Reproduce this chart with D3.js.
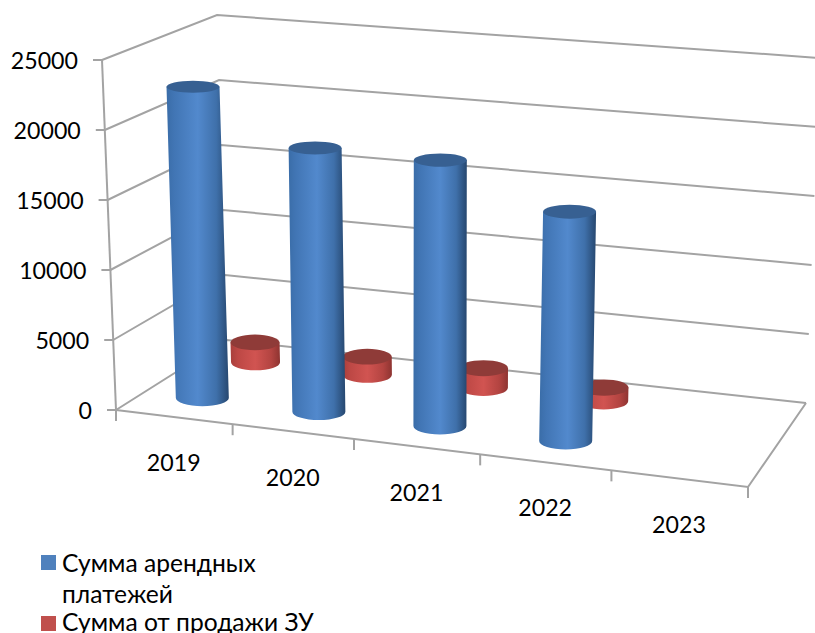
<!DOCTYPE html>
<html>
<head>
<meta charset="utf-8">
<style>
html,body{margin:0;padding:0;background:#fff}
svg{display:block}
text{font-family:Lato,"Noto Sans",sans-serif;font-size:23.2px;fill:#000}
text.legend{font-size:24.6px}
</style>
<script src="https://cdn.jsdelivr.net/npm/d3@7/dist/d3.min.js"></script>
</head>
<body>
<svg id="chart" width="815" height="633"></svg>
<script>
// Chart data
const years = ["2019", "2020", "2021", "2022", "2023"];
const seriesNames = ["Сумма арендных платежей", "Сумма от продажи ЗУ"];
const rentPayments = [22600, 19100, 19200, 16500, null];
const landSales = [1500, 1350, 1450, 1000, null];
const valueTicks = [0, 5000, 10000, 15000, 20000, 25000];

const svg = d3.select("#chart");

// Floor corners and the upward vector of the full value range at each corner
const floor = { fl: [116, 410], fr: [748, 487], bl: [227, 340], br: [806, 403] };
const rise = { fl: [-14, -350], fr: [14, -350], bl: [-10, -325], br: [14, -345] };

// Perspective map from the unit square onto the floor quadrilateral
function floorMap(q) {
  const [x0, y0] = q.fl, [x1, y1] = q.fr, [x2, y2] = q.br, [x3, y3] = q.bl;
  const dx1 = x1 - x2, dx2 = x3 - x2, dx3 = x0 - x1 + x2 - x3;
  const dy1 = y1 - y2, dy2 = y3 - y2, dy3 = y0 - y1 + y2 - y3;
  const det = dx1 * dy2 - dx2 * dy1;
  const g = (dx3 * dy2 - dx2 * dy3) / det;
  const h = (dx1 * dy3 - dx3 * dy1) / det;
  const a = x1 - x0 + g * x1, b = x3 - x0 + h * x3;
  const d = y1 - y0 + g * y1, e = y3 - y0 + h * y3;
  return (u, v) => {
    const w = g * u + h * v + 1;
    return [(a * u + b * v + x0) / w, (d * u + e * v + y0) / w];
  };
}
const onFloor = floorMap(floor);

const catScale = d3.scaleBand().domain(years).range([0, 1]);
const depthScale = d3.scalePoint().domain(seriesNames).range([0, 1]).padding(0.5);
const valueScale = d3.scaleLinear().domain([0, 25000]).range([0, 1]);
// Slight foreshortening along the category axis
const alongScale = d3.scalePow().exponent(1.002).domain([0, 1]).range([0, 1]);
// Ellipses flatten toward the top of the picture
const flatScale = d3.scaleLinear().domain([80, 400]).range([0.72, 1]);

// Screen position of (along, depth, value)
function project(t, v, value) {
  const u = alongScale(t);
  const [px, py] = onFloor(u, v);
  const k = valueScale(value);
  const mix = i =>
    (1 - u) * (1 - v) * rise.fl[i] + u * (1 - v) * rise.fr[i] +
    (1 - u) * v * rise.bl[i] + u * v * rise.br[i];
  return [px + k * mix(0), py + k * mix(1)];
}

const line = d3.line();
const frame = svg.append("g").attr("fill", "none").attr("stroke", "#a3a3a3").attr("stroke-width", 2);

// Gridlines on the side wall and the back wall
valueTicks.forEach(t => {
  frame.append("path").attr("d", line([project(0, 0, t), project(0, 1, t), project(1, 1, t)]));
});
// Floor outline and value axis
frame.append("path").attr("d", line([project(0, 0, 0), project(1, 0, 0), project(1, 1, 0)]));
frame.append("path").attr("d", line([project(0, 0, 0), project(0, 0, 25000)]));

// Value ticks and labels
valueTicks.forEach(t => {
  const [x, y] = project(0, 0, t);
  frame.append("path").attr("d", line([[x - 9, y], [x, y]]));
  svg.append("text").attr("x", x - 24).attr("y", y + 1).attr("dy", "0.35em")
    .attr("text-anchor", "end").text(t);
});

// Category ticks and labels along the front edge
const step = catScale.bandwidth();
d3.range(years.length + 1).forEach(i => {
  const [x, y] = project(i * step, 0, 0);
  frame.append("path").attr("d", line([[x, y], [x, y + 11]]));
});
years.forEach(c => {
  const [x, y] = project(catScale(c) + step / 2, 0, 0);
  svg.append("text").attr("x", x).attr("y", y + 46).attr("dy", "0.35em")
    .attr("text-anchor", "middle").text(c);
});

// Horizontal shading of the cylinders
const defs = svg.append("defs");
function shade(id, stops) {
  const g = defs.append("linearGradient").attr("id", id);
  stops.forEach(([o, c]) => g.append("stop").attr("offset", o).attr("stop-color", c));
}
shade("blueBody", [[0, "#3a6da8"], [0.12, "#4175b4"], [0.5, "#5289cd"], [0.8, "#3f70aa"], [1, "#26476f"]]);
shade("redBody", [[0, "#a83f3c"], [0.15, "#bd4845"], [0.5, "#d15451"], [0.82, "#b34441"], [1, "#8e3431"]]);

// One cylinder from its base centre to its top centre
function cylinder(u, v, value, rx, ry, fill, cap) {
  const [bx, by] = project(u, v, 0);
  const [tx, ty] = project(u, v, value);
  const rb = ry * flatScale(by), rt = ry * flatScale(ty);
  const g = svg.append("g");
  g.append("path")
    .attr("d", `M${tx - rx},${ty} L${bx - rx},${by} A${rx},${rb} 0 0 0 ${bx + rx},${by} L${tx + rx},${ty} Z`)
    .attr("fill", `url(#${fill})`);
  g.append("ellipse").attr("cx", tx).attr("cy", ty).attr("rx", rx).attr("ry", rt).attr("fill", cap);
}

// Rear row first so that the front row overlaps it
landSales.forEach((d, i) => {
  if (d !== null) cylinder(catScale(years[i]) + step / 2, depthScale(seriesNames[1]), d, 24.5, 8.2, "redBody", "#8f3b38");
});
rentPayments.forEach((d, i) => {
  if (d !== null) cylinder(catScale(years[i]) + step / 2, depthScale(seriesNames[0]), d, 26.5, 8.3, "blueBody", "#376092");
});

// Legend
const legendRows = [
  { color: "#4f81bd", lines: [["Сумма арендных", 572], ["платежей", 603]], top: 555 },
  { color: "#c0504d", lines: [["Сумма от продажи ЗУ", 631]], top: 616 }
];
legendRows.forEach(r => {
  svg.append("rect").attr("x", 41).attr("y", r.top).attr("width", 15).attr("height", 15).attr("fill", r.color);
  r.lines.forEach(([s, y]) => svg.append("text").attr("class", "legend").attr("x", 62).attr("y", y).text(s));
});
</script>
</body>
</html>
